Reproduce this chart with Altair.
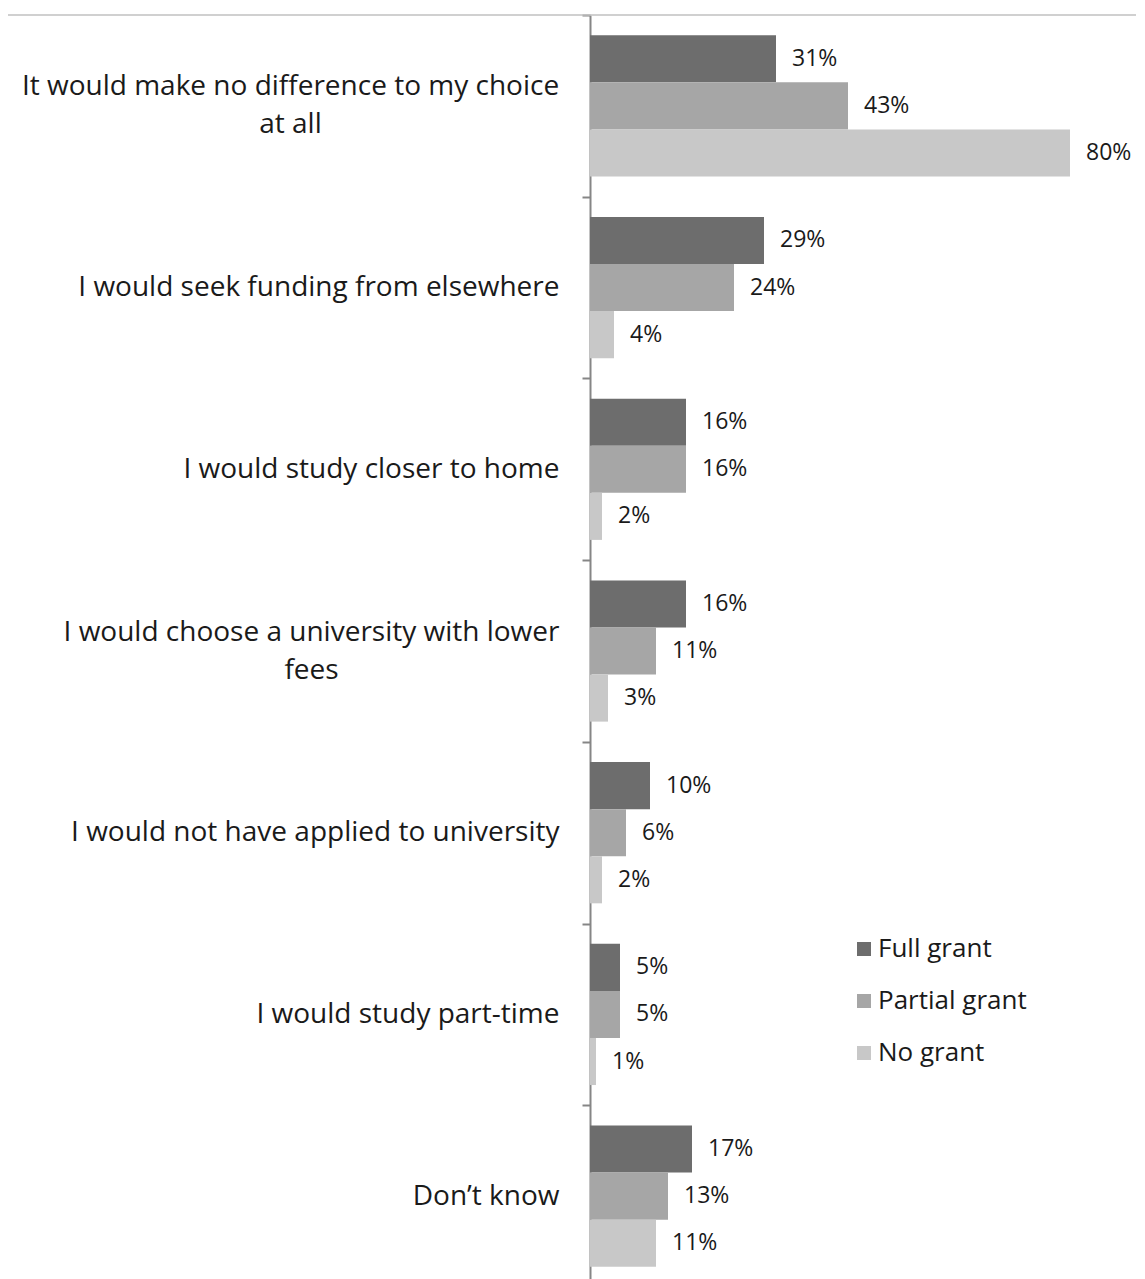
import altair as alt
import pandas as pd

categories = [
    "It would make no difference to my choice at all",
    "I would seek funding from elsewhere",
    "I would study closer to home",
    "I would choose a university with lower fees",
    "I would not have applied to university",
    "I would study part-time",
    "Don\u2019t know",
]
series = ["Full grant", "Partial grant", "No grant"]
full_grant = [31, 29, 16, 16, 10, 5, 17]
partial_grant = [43, 24, 16, 11, 6, 5, 13]
no_grant = [80, 4, 2, 3, 2, 1, 11]
colors = ["#6d6d6d", "#a6a6a6", "#c8c8c8"]

rows = []
for i, c in enumerate(categories):
    for s, vals in zip(series, [full_grant, partial_grant, no_grant]):
        rows.append({"category": c, "series": s, "value": vals[i], "label": f"{vals[i]}%"})
df = pd.DataFrame(rows)

FONT = "Open Sans"
W = 546
H = 1272

c1 = categories[0]
c4 = categories[3]
label_expr = (
    f"datum.value == '{c1}' ? ['It would make no difference to my choice', 'at all'] : "
    f"datum.value == '{c4}' ? ['I would choose a university with lower', 'fees'] : datum.value"
)
multi_test = f"datum.value == '{c1}' || datum.value == '{c4}'"

y_enc = alt.Y(
    "category:N",
    sort=categories,
    title=None,
    scale=alt.Scale(paddingInner=0, paddingOuter=0),
    axis=alt.Axis(
        labelExpr=label_expr,
        labelFont=FONT,
        labelFontSize=28,
        labelColor="#1a1a1a",
        labelLineHeight=38,
        labelAlign={"condition": {"test": multi_test, "value": "center"}, "value": "right"},
        labelOffset={"condition": {"test": multi_test, "value": -19}, "value": 0},
        labelPadding={"condition": [
            {"test": f"datum.value == '{c1}'", "value": 292},
            {"test": f"datum.value == '{c4}'", "value": 271},
        ], "value": 23},
        labelBaseline="middle",
        labelLimit=700,
        tickBand="extent",
        tickSize=8,
        tickWidth=2,
        tickColor="#868686",
        domainColor="#868686",
        domainWidth=2,
        grid=False,
    ),
)
yoff = alt.YOffset("series:N", sort=series, scale=alt.Scale(paddingOuter=0.43, paddingInner=0))
x_enc = alt.X("value:Q", axis=None, scale=alt.Scale(domain=[0, 91]))

bars = alt.Chart(df).mark_bar().encode(
    x=x_enc,
    y=y_enc,
    yOffset=yoff,
    color=alt.Color(
        "series:N",
        sort=series,
        scale=alt.Scale(domain=series, range=colors),
        legend=alt.Legend(
            title=None,
            orient="none",
            legendX=261,
            legendY=921,
            symbolType="square",
            symbolSize=196,
            symbolStrokeWidth=0,
            labelFont=FONT,
            labelFontSize=26,
            labelColor="#1a1a1a",
            rowPadding=26,
            labelOffset=1,
            padding=0,
        ),
    ),
)

texts = alt.Chart(df).mark_text(
    align="left", baseline="middle", dx=16, font=FONT, fontSize=23, color="#1a1a1a"
).encode(
    x=x_enc,
    y=alt.Y("category:N", sort=categories),
    yOffset=yoff,
    text="label:N",
)

top_line = alt.Chart(pd.DataFrame({"k": [0]})).mark_rule(color="#c0c0c0", strokeWidth=1.5).encode(
    y=alt.value(0), x=alt.value(-600), x2=alt.value(W + 20)
)

chart = alt.layer(top_line, bars, texts).properties(
    width=W,
    height=H,
    autosize=alt.AutoSizeParams(type="none"),
    padding={"left": 582, "top": 7, "right": 0, "bottom": 0},
).configure_view(stroke=None)

chart.save("out.html", embed_options={"renderer": "svg", "actions": False})
